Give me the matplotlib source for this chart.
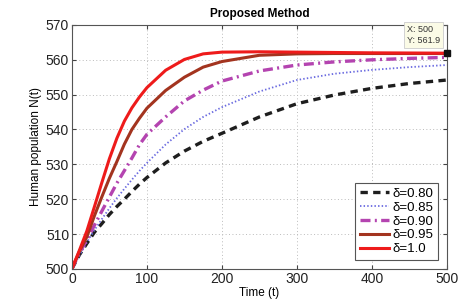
import matplotlib
matplotlib.use("Agg")
import matplotlib.pyplot as plt

t = [0, 10, 20, 30, 40, 50, 60, 70, 80, 90, 100, 125, 150, 175, 200, 250, 300, 350, 400, 450, 500]
n_080 = [500, 504.0, 507.3, 510.5, 513.0, 515.6, 517.9, 520.0, 522.2, 524.3, 526.2, 530.4, 533.8, 536.6, 538.9, 543.6, 547.4, 549.9, 551.8, 553.2, 554.2]
n_085 = [500, 503.8, 507.6, 511.1, 514.3, 517.4, 520.3, 523.0, 525.6, 528.1, 530.4, 535.7, 540.1, 543.6, 546.4, 550.9, 554.2, 556.0, 557.1, 557.9, 558.5]
n_090 = [500, 504.5, 508.4, 512.5, 516.6, 520.6, 524.6, 528.2, 531.8, 535.6, 538.6, 543.6, 548.2, 551.3, 553.9, 556.8, 558.5, 559.4, 560.0, 560.4, 560.7]
n_095 = [500, 505.0, 509.2, 515.2, 520.7, 526.0, 530.8, 535.8, 540.0, 543.2, 546.1, 551.2, 555.0, 557.9, 559.5, 561.3, 561.7, 561.8, 561.8, 561.8, 561.8]
n_100 = [500, 505.3, 510.9, 517.8, 524.8, 531.6, 537.5, 542.4, 546.2, 549.3, 552.0, 557.0, 560.1, 561.7, 562.2, 562.3, 562.2, 562.1, 562.0, 561.95, 561.9]
labels = ["δ=0.80", "δ=0.85", "δ=0.90", "δ=0.95", "δ=1.0"]
xticks = [0, 100, 200, 300, 400, 500]
yticks = [500, 510, 520, 530, 540, 550, 560, 570]
tip_x, tip_y = 500, 561.9

plt.rcParams['font.family'] = ['Liberation Sans', 'DejaVu Sans']

fig = plt.figure(figsize=(4.76, 3.08), dpi=100)
ax = fig.add_axes([0.151, 0.127, 0.788, 0.792])

ax.plot(t, n_080, color='#1e1e1e', lw=2.4, ls=(0, (2.2, 1.6)), label=labels[0])
ax.plot(t, n_085, color='#6a6ae0', lw=1.3, ls=(0, (0.8, 1.2)), label=labels[1])
ax.plot(t, n_090, color='#b444b0', lw=2.4, ls=(0, (3.0, 1.3, 0.6, 1.3)), label=labels[2])
ax.plot(t, n_095, color='#a3341f', lw=2.2, label=labels[3])
ax.plot(t, n_100, color='#ee1b1b', lw=2.2, label=labels[4])

ax.set_xlim(0, 500)
ax.set_ylim(500, 570)
ax.set_xticks(xticks)
ax.set_yticks(yticks)
ax.grid(True, color='#bbbbbb', ls=(0, (1, 2.5)), lw=0.7)
ax.tick_params(direction='in', top=True, right=True, labelsize=10, length=3,
               color='#444444', labelcolor='#222222', pad=2)
for s in ax.spines.values():
    s.set_color('#555555')
    s.set_linewidth(0.8)

ax.set_title("Proposed Method", fontsize=8.5, fontweight='bold', pad=6)
ax.set_xlabel("Time (t)", fontsize=8.5, labelpad=1)
ax.set_ylabel("Human population N(t)", fontsize=8.5, labelpad=3)

leg = ax.legend(loc='lower right', fontsize=9.5, handlelength=2.2, handletextpad=0.3,
                labelspacing=0.12, borderpad=0.35, fancybox=False, framealpha=1,
                edgecolor='#555555', bbox_to_anchor=(0.995, 0.01))
leg.get_frame().set_linewidth(0.8)

ax.plot([tip_x], [tip_y], marker='s', ms=5, color='#111111', clip_on=False, zorder=5)
ax.annotate("X: %d\nY: %.1f" % (tip_x, tip_y), xy=(tip_x, tip_y), xytext=(-29, 6),
            textcoords='offset points', fontsize=6.5, color='#333333', va='bottom', ha='left',
            linespacing=1.3,
            bbox=dict(boxstyle='square,pad=0.35', fc='#fbfbe6', ec='#cccccc', lw=0.6),
            annotation_clip=False)

fig.savefig("out.png", dpi=100)
